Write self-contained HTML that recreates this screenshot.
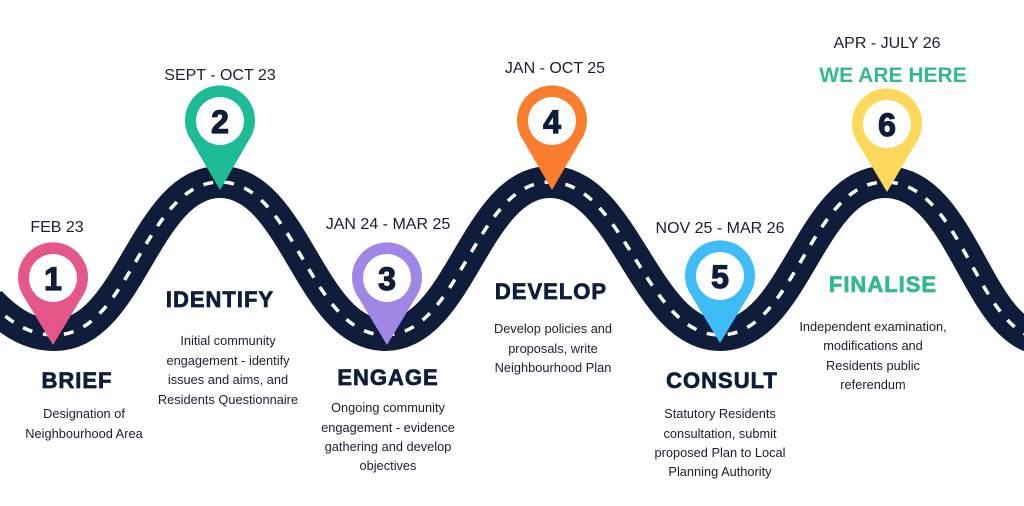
<!DOCTYPE html>
<html><head><style>
html,body{margin:0;padding:0;background:#fff;}
svg{display:block;}
.d{font-family:"Liberation Sans",sans-serif;font-size:16px;fill:#1a1f2e;text-anchor:middle;}
.t{font-family:"Liberation Sans",sans-serif;font-size:22px;font-weight:bold;fill:#0f1d3b;stroke:#0f1d3b;stroke-width:0.7;text-anchor:middle;letter-spacing:1px;}
.s{font-family:"Liberation Sans",sans-serif;font-size:12.8px;fill:#1a1f2e;text-anchor:middle;}
.n{font-family:"Liberation Sans",sans-serif;font-size:32px;font-weight:bold;fill:#0f1d3b;stroke:#0f1d3b;stroke-width:1.2;text-anchor:middle;}
</style></head><body>
<svg width="1024" height="506" viewBox="0 0 1024 506" xmlns="http://www.w3.org/2000/svg">
<path d="M -10,302 C 15,328 35,335 55,335 C 130,335 145,182 220,182 C 295,182 310,335 385,335 C 460,335 475,182 550,182 C 625,182 645,335 720,335 C 795,335 810,182 885,182 C 960,182 975,322 1035,338" fill="none" stroke="#0f1d3b" stroke-width="32"/>
<path d="M -10,302 C 15,328 35,335 55,335 C 130,335 145,182 220,182 C 295,182 310,335 385,335 C 460,335 475,182 550,182 C 625,182 645,335 720,335 C 795,335 810,182 885,182 C 960,182 975,322 1035,338" fill="none" stroke="#fff" stroke-width="3.5" stroke-dasharray="10 11"/>

<g>
<path d="M 53,345 L 24,297 A 35 35 0 1 1 82,297 Z" fill="#e5578a"/>
<circle cx="53" cy="278" r="24" fill="#fff"/><text class="n" x="53" y="290">1</text>
</g>
<g>
<path d="M 220,190 L 191,140 A 35 35 0 1 1 249,140 Z" fill="#1dbc96"/>
<circle cx="220" cy="121" r="24" fill="#fff"/><text class="n" x="220" y="133">2</text>
</g>
<g>
<path d="M 387,345 L 358,297 A 35 35 0 1 1 416,297 Z" fill="#a087e6"/>
<circle cx="387" cy="278" r="24" fill="#fff"/><text class="n" x="387" y="290">3</text>
</g>
<g>
<path d="M 552,190 L 523,140 A 35 35 0 1 1 581,140 Z" fill="#f97d2c"/>
<circle cx="552" cy="121" r="24" fill="#fff"/><text class="n" x="552" y="133">4</text>
</g>
<g>
<path d="M 720,343 L 691,295 A 35 35 0 1 1 749,295 Z" fill="#3ebcf5"/>
<circle cx="720" cy="276" r="24" fill="#fff"/><text class="n" x="720" y="288">5</text>
</g>
<g>
<path d="M 887,192 L 858,143 A 35 35 0 1 1 916,143 Z" fill="#fcd95a"/>
<circle cx="887" cy="124" r="24" fill="#fff"/><text class="n" x="887" y="136">6</text>
</g>

<text class="d" x="57" y="232">FEB 23</text>
<text class="d" x="220" y="80">SEPT - OCT 23</text>
<text class="d" x="388" y="229">JAN 24 - MAR 25</text>
<text class="d" x="555" y="73">JAN - OCT 25</text>
<text class="d" x="720" y="233">NOV 25 - MAR 26</text>
<text class="d" x="887" y="48">APR - JULY 26</text>
<text x="893" y="82" style="font-family:'Liberation Sans Narrow','Liberation Sans',sans-serif;font-size:21px;font-weight:bold;fill:#33b98f;text-anchor:middle;">WE ARE HERE</text>

<text class="t" x="77" y="388">BRIEF</text>
<text class="t" x="220" y="307">IDENTIFY</text>
<text class="t" x="388" y="385">ENGAGE</text>
<text class="t" x="551" y="299">DEVELOP</text>
<text class="t" x="722" y="388">CONSULT</text>
<text class="t" x="883" y="292" style="fill:#33b98f;stroke:#33b98f">FINALISE</text>

<text class="s" x="84" y="418">Designation of</text>
<text class="s" x="84" y="438">Neighbourhood Area</text>

<text class="s" x="228" y="345">Initial community</text>
<text class="s" x="228" y="365">engagement - identify</text>
<text class="s" x="228" y="384">issues and aims, and</text>
<text class="s" x="228" y="404">Residents Questionnaire</text>

<text class="s" x="388" y="412">Ongoing community</text>
<text class="s" x="388" y="432">engagement - evidence</text>
<text class="s" x="388" y="451">gathering and develop</text>
<text class="s" x="388" y="470">objectives</text>

<text class="s" x="553" y="333">Develop policies and</text>
<text class="s" x="553" y="353">proposals, write</text>
<text class="s" x="553" y="372">Neighbourhood Plan</text>

<text class="s" x="720" y="418">Statutory Residents</text>
<text class="s" x="720" y="438">consultation, submit</text>
<text class="s" x="720" y="457">proposed Plan to Local</text>
<text class="s" x="720" y="476">Planning Authority</text>

<text class="s" x="873" y="331">Independent examination,</text>
<text class="s" x="873" y="350">modifications and</text>
<text class="s" x="873" y="370">Residents public</text>
<text class="s" x="873" y="389">referendum</text>
</svg>
</body></html>
